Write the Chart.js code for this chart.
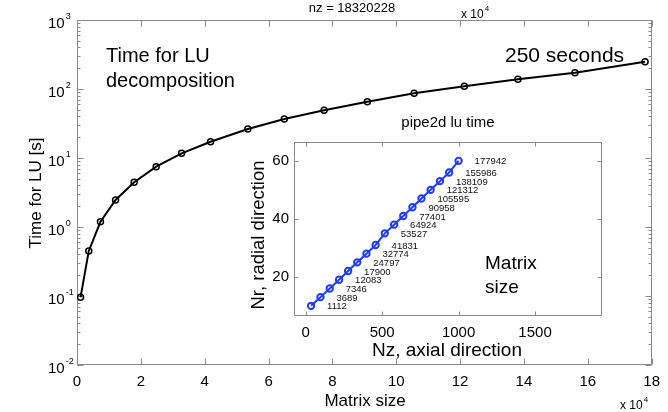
<!DOCTYPE html>
<html>
<head>
<meta charset="utf-8">
<script src="https://cdn.jsdelivr.net/npm/chart.js@4.4.0/dist/chart.umd.min.js"></script>
<style>
  html, body { margin: 0; padding: 0; background: #fff; }
  #wrap { position: relative; width: 668px; height: 412px; }
  #wrap canvas { position: absolute; left: 0; top: 0; }
</style>
</head>
<body>
<div id="wrap">
  <canvas id="mainChart" width="668" height="412"></canvas>
  <canvas id="insetChart" width="668" height="412"></canvas>
</div>
<script>
// LU timing for pipe2d, main plot (log y) and inset with grid sizes

// Data
const matrixSize = [1112, 3689, 7346, 12083, 17900, 24797, 32774, 41831, 53527, 64924, 77401, 90958, 105595, 121312, 138109, 155986, 177942];
const luTime = [0.096, 0.45, 1.19, 2.46, 4.45, 7.48, 11.7, 17.2, 26.3, 36.7, 49.1, 65.5, 86.5, 110, 138, 172, 249];
const nzAxial = [35, 96, 157, 218, 277, 337, 397, 457, 517, 578, 638, 698, 757, 817, 878, 938, 1000];
const nrRadial = [10, 13, 16, 19, 22, 25, 28, 31, 35, 38, 41, 44, 47, 50, 53, 56, 60];

// Tick labels
const mainXTicks = [0, 2, 4, 6, 8, 10, 12, 14, 16, 18];   // x 10^4
const mainYDecades = [-2, -1, 0, 1, 2, 3];
const insetXTicks = [0, 500, 1000, 1500];
const insetYTicks = [20, 40, 60];

const FONT = '"Liberation Sans", Arial, Helvetica, sans-serif';
const AXIS_GREY = '#8a8a8a';
const BLUE = '#1f3cff';

function drawText(ctx, str, x, y, size, align, color) {
  ctx.font = size + 'px ' + FONT;
  ctx.textAlign = align || 'left';
  ctx.textBaseline = 'middle';
  ctx.fillStyle = color || '#000';
  ctx.fillText(str, x, y);
}

// "10" with a small exponent, left aligned at x
function drawPower(ctx, base, exp, x, y, size, expSize) {
  drawText(ctx, base, x, y, size, 'left');
  const w = ctx.measureText(base).width;
  drawText(ctx, exp, x + w + 1, y - size * 0.48, expSize, 'left');
}

function drawRotated(ctx, str, x, y, size) {
  ctx.save();
  ctx.translate(x, y);
  ctx.rotate(-Math.PI / 2);
  drawText(ctx, str, 0, 0, size, 'center');
  ctx.restore();
}

// MATLAB style box with inward ticks on all four sides
function drawFrame(chart, xVals, yVals, yMinor, len, minorLen) {
  const { ctx, chartArea: a, scales } = chart;
  const L = Math.round(a.left) + 0.5, R = Math.round(a.right) - 0.5;
  const T = Math.round(a.top) + 0.5, B = Math.round(a.bottom) - 0.5;
  ctx.save();
  ctx.strokeStyle = AXIS_GREY;
  ctx.lineWidth = 1;
  ctx.strokeRect(L, T, R - L, B - T);
  ctx.beginPath();
  xVals.forEach(v => {
    const px = Math.round(scales.x.getPixelForValue(v)) + 0.5;
    ctx.moveTo(px, B); ctx.lineTo(px, B - len);
    ctx.moveTo(px, T); ctx.lineTo(px, T + len);
  });
  yVals.forEach(v => {
    const py = Math.round(scales.y.getPixelForValue(v)) + 0.5;
    ctx.moveTo(L, py); ctx.lineTo(L + len, py);
    ctx.moveTo(R, py); ctx.lineTo(R - len, py);
  });
  yMinor.forEach(v => {
    const py = Math.round(scales.y.getPixelForValue(v)) + 0.5;
    ctx.moveTo(L, py); ctx.lineTo(L + minorLen, py);
    ctx.moveTo(R, py); ctx.lineTo(R - minorLen, py);
  });
  ctx.stroke();
  ctx.restore();
}

const mainFramePlugin = {
  id: 'mainFrame',
  beforeDatasetsDraw(chart) {
    const major = mainYDecades.map(e => Math.pow(10, e));
    const minor = [];
    mainYDecades.slice(0, -1).forEach(e => {
      for (let k = 2; k <= 9; k++) minor.push(k * Math.pow(10, e));
    });
    drawFrame(chart, mainXTicks.map(v => v * 1e4), major, minor, 6, 3);
  },
  afterDraw(chart) {
    const ctx = chart.ctx;
    const y = chart.scales.y;
    mainYDecades.forEach(e => {
      const py = y.getPixelForValue(Math.pow(10, e));
      drawPower(ctx, '10', String(e), 48, py + 4, 15, 9);
    });
    drawRotated(ctx, 'Time for LU [s]', 36, 193, 17);
    drawText(ctx, 'Matrix size', 365, 401, 17, 'center');
    drawPower(ctx, 'x 10', '4', 620, 406, 12, 8);
    drawPower(ctx, 'x 10', '4', 461, 15, 12, 8);
    drawText(ctx, 'nz = 18320228', 352, 8, 13, 'center');
    drawText(ctx, 'Time for LU', 106, 56, 20, 'left');
    drawText(ctx, 'decomposition', 106, 81, 20, 'left');
    drawText(ctx, '250 seconds', 505, 56, 21, 'left');
  }
};

const insetPlugin = {
  id: 'insetDecor',
  beforeDraw(chart) {
    const { ctx, chartArea: a } = chart;
    ctx.save();
    ctx.fillStyle = '#fff';
    ctx.fillRect(a.left, a.top, a.right - a.left, a.bottom - a.top);
    ctx.restore();
  },
  beforeDatasetsDraw(chart) {
    drawFrame(chart, insetXTicks, insetYTicks, [], 4, 0);
  },
  afterDatasetsDraw(chart) {
    const ctx = chart.ctx;
    chart.getDatasetMeta(0).data.forEach((pt, i) => {
      drawText(ctx, String(matrixSize[i]), pt.x + 16, pt.y + 1, 9.5, 'left', '#111');
    });
  },
  afterDraw(chart) {
    const ctx = chart.ctx;
    drawText(ctx, 'pipe2d lu time', 448, 123, 15, 'center');
    drawRotated(ctx, 'Nr, radial direction', 259, 235, 18.5);
    drawText(ctx, 'Nz, axial direction', 447, 351, 19, 'center');
    drawText(ctx, 'Matrix', 485, 264, 19, 'left');
    drawText(ctx, 'size', 485, 288, 19, 'left');
  }
};

new Chart(document.getElementById('mainChart'), {
  type: 'scatter',
  data: {
    datasets: [{
      data: matrixSize.map((m, i) => ({ x: m, y: luTime[i] })),
      showLine: true,
      borderColor: '#000',
      borderWidth: 2,
      pointRadius: 3,
      pointBorderWidth: 1.5,
      pointBorderColor: '#000',
      pointBackgroundColor: 'rgba(255,255,255,0)',
      tension: 0
    }]
  },
  options: {
    responsive: false,
    animation: false,
    layout: { padding: { left: 0, top: 20, right: 13, bottom: 0 } },
    plugins: { legend: { display: false }, tooltip: { enabled: false } },
    scales: {
      x: {
        type: 'linear', min: 0, max: 180000,
        grid: { display: false, drawTicks: false },
        border: { display: false },
        afterBuildTicks: s => { s.ticks = mainXTicks.map(v => ({ value: v * 1e4 })); },
        afterFit: s => { s.height = 47; },
        ticks: {
          color: '#000', font: { family: FONT, size: 15 }, padding: 8,
          maxRotation: 0, autoSkip: false,
          callback: v => String(Math.round(v / 1e4))
        }
      },
      y: {
        type: 'logarithmic', min: 0.01, max: 1000,
        grid: { display: false, drawTicks: false },
        border: { display: false },
        ticks: { display: false },
        afterFit: s => { s.width = 77; }
      }
    }
  },
  plugins: [mainFramePlugin]
});

new Chart(document.getElementById('insetChart'), {
  type: 'scatter',
  data: {
    datasets: [{
      data: nzAxial.map((z, i) => ({ x: z, y: nrRadial[i] })),
      showLine: true,
      borderColor: BLUE,
      borderWidth: 2,
      pointRadius: 3.2,
      pointBorderWidth: 2,
      pointBorderColor: BLUE,
      pointBackgroundColor: 'rgba(255,255,255,0)',
      tension: 0
    }]
  },
  options: {
    responsive: false,
    animation: false,
    layout: { padding: { left: 0, top: 142, right: 66, bottom: 0 } },
    plugins: { legend: { display: false }, tooltip: { enabled: false } },
    scales: {
      x: {
        type: 'linear', min: -77, max: 1938,
        grid: { display: false, drawTicks: false },
        border: { display: false },
        afterBuildTicks: s => { s.ticks = insetXTicks.map(v => ({ value: v })); },
        afterFit: s => { s.height = 96; },
        ticks: {
          color: '#000', font: { family: FONT, size: 15 }, padding: 8,
          maxRotation: 0, autoSkip: false, callback: v => String(v)
        }
      },
      y: {
        type: 'linear', min: 6.5, max: 66.5,
        grid: { display: false, drawTicks: false },
        border: { display: false },
        afterBuildTicks: s => { s.ticks = insetYTicks.map(v => ({ value: v })); },
        afterFit: s => { s.width = 294; },
        ticks: { color: '#000', font: { family: FONT, size: 15 }, padding: 5, callback: v => String(v) }
      }
    }
  },
  plugins: [insetPlugin]
});
</script>
</body>
</html>
